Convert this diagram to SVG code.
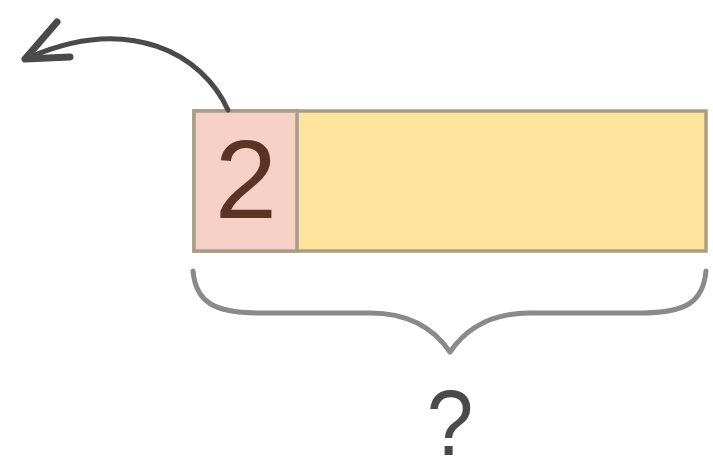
<svg xmlns="http://www.w3.org/2000/svg" width="713" height="475" viewBox="0 0 713 475">
<style>
.box{stroke:#ab9c88;stroke-width:3.5}
.conn{fill:none;stroke:#4a4a4a;stroke-width:5;stroke-linecap:round;stroke-linejoin:round}
.head{fill:none;stroke:#4a4a4a;stroke-width:7;stroke-linecap:round;stroke-linejoin:round}
.brace{fill:none;stroke:#8a8a8a;stroke-width:5;stroke-linecap:round;stroke-linejoin:round}
.num{font-family:"Liberation Sans",Arial,sans-serif;font-size:112px;fill:#5a3526;text-anchor:middle}
.q{font-family:"Liberation Sans",Arial,sans-serif;font-size:93px;fill:#4a4a4a;text-anchor:middle}
</style>
<rect width="713" height="475" fill="#ffffff"/>
<g id="bar">
<rect class="box" x="194" y="111" width="512" height="140" fill="#fde39c"/>
</g>
<g id="part2">
<rect class="box" x="194" y="111" width="103" height="140" fill="#f6d2c6"/>
<text class="num" x="246" y="218">2</text>
</g>
<g id="connectors">
<path class="conn" d="M228 110 C203 54 130 14 30 57"/>
<path class="head" d="M57 22 L25 59 L70 57"/>
<path class="brace" d="M193 271 C196 303 215 313 260 313 L370 313 C410 313 435 330 450 352 C465 330 490 313 530 313 L640 313 C685 313 703 303 706 271"/>
</g>
<g id="question">
<text class="q" x="450" y="455" transform="translate(450 0) scale(0.9 1) translate(-450 0)">?</text>
</g>
</svg>
